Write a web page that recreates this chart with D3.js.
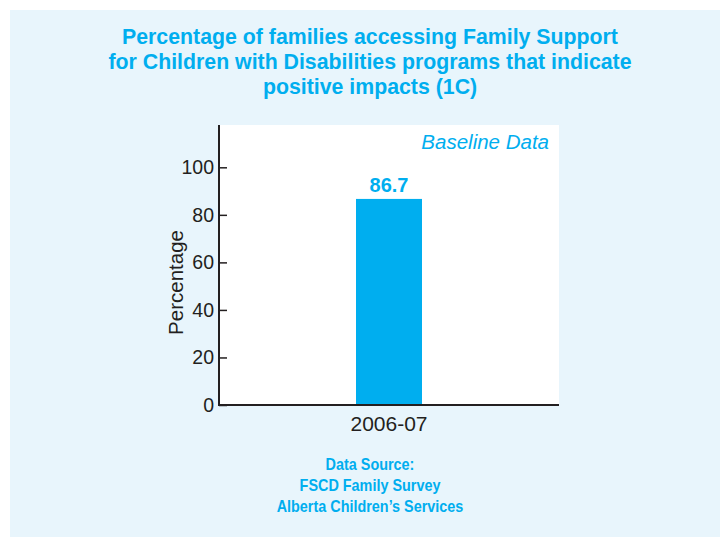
<!DOCTYPE html>
<html>
<head>
<meta charset="utf-8">
<script src="https://cdn.jsdelivr.net/npm/d3@7"></script>
<style>
  html, body { margin: 0; padding: 0; background: #ffffff; }
  svg { display: block; }
</style>
</head>
<body>
<svg id="chart" width="720" height="538"></svg>
<script>
// Chart data
const categories = ["2006-07"];
const values = [86.7];
const yTicks = [0, 20, 40, 60, 80, 100];
const titleLines = [
  "Percentage of families accessing Family Support",
  "for Children with Disabilities programs that indicate",
  "positive impacts (1C)"
];
const sourceLines = [
  "Data Source:",
  "FSCD Family Survey",
  "Alberta Children\u2019s Services"
];

const cyan = "#00aeef";
const ink = "#231f20";
const sans = "'Liberation Sans', Arial, Helvetica, sans-serif";

const svg = d3.select("#chart");

// Light blue panel
svg.append("rect")
  .attr("x", 10).attr("y", 10)
  .attr("width", 710).attr("height", 527)
  .attr("fill", "#e8f5fc");

// Plot area
const plot = { left: 219, right: 559, top: 125, bottom: 405 };

svg.append("rect")
  .attr("x", plot.left).attr("y", plot.top)
  .attr("width", plot.right - plot.left)
  .attr("height", plot.bottom - plot.top)
  .attr("fill", "#ffffff");

const x = d3.scaleBand()
  .domain(categories)
  .range([plot.left, plot.right])
  .paddingInner(0)
  .paddingOuter(2.076);

const y = d3.scaleLinear()
  .domain([0, 117.8])
  .range([plot.bottom, plot.top]);

// Title
svg.append("g")
  .selectAll("text")
  .data(titleLines)
  .join("text")
  .attr("x", 370)
  .attr("y", (d, i) => 44 + i * 25)
  .attr("text-anchor", "middle")
  .attr("font-family", sans)
  .attr("font-weight", "bold")
  .attr("font-size", 21.3)
  .attr("fill", cyan)
  .text(d => d);

// Bars
svg.append("g")
  .selectAll("rect")
  .data(values)
  .join("rect")
  .attr("x", (d, i) => x(categories[i]))
  .attr("width", x.bandwidth())
  .attr("y", d => y(d))
  .attr("height", d => y(0) - y(d))
  .attr("fill", cyan);

// Value labels
svg.append("g")
  .selectAll("text")
  .data(values)
  .join("text")
  .attr("x", (d, i) => x(categories[i]) + x.bandwidth() / 2)
  .attr("y", d => y(d) - 7)
  .attr("text-anchor", "middle")
  .attr("font-family", sans)
  .attr("font-weight", "bold")
  .attr("font-size", 20)
  .attr("fill", cyan)
  .text(d => d.toFixed(1));

// Y axis (ticks point into the plot)
const yAxis = d3.axisRight(y)
  .tickValues(yTicks)
  .tickSize(8)
  .tickFormat("");
const gy = svg.append("g")
  .attr("transform", `translate(${plot.left},0)`)
  .call(yAxis);
gy.select(".domain").remove();
gy.selectAll(".tick line").attr("stroke", ink).attr("stroke-width", 1.5);

svg.append("g")
  .selectAll("text")
  .data(yTicks)
  .join("text")
  .attr("x", plot.left - 5)
  .attr("y", d => y(d))
  .attr("dy", "0.36em")
  .attr("text-anchor", "end")
  .attr("font-family", sans)
  .attr("font-size", 19.5)
  .attr("fill", ink)
  .text(d => d);

// Axis lines
svg.append("line")
  .attr("x1", plot.left).attr("x2", plot.left)
  .attr("y1", plot.top).attr("y2", plot.bottom + 1)
  .attr("stroke", ink).attr("stroke-width", 2);
svg.append("line")
  .attr("x1", plot.left - 1).attr("x2", plot.right)
  .attr("y1", plot.bottom).attr("y2", plot.bottom)
  .attr("stroke", ink).attr("stroke-width", 2);

// X axis category labels
const xAxis = d3.axisBottom(x).tickSize(0).tickPadding(11);
const gx = svg.append("g")
  .attr("transform", `translate(0,${plot.bottom})`)
  .call(xAxis);
gx.select(".domain").remove();
gx.selectAll("text")
  .attr("font-family", sans)
  .attr("font-size", 21)
  .attr("fill", ink);

// Y axis title
svg.append("text")
  .attr("transform", `translate(183,282.5) rotate(-90)`)
  .attr("text-anchor", "middle")
  .attr("font-family", sans)
  .attr("font-size", 20.5)
  .attr("fill", ink)
  .text("Percentage");

// Note inside the plot
svg.append("text")
  .attr("x", 549)
  .attr("y", 149)
  .attr("text-anchor", "end")
  .attr("font-family", sans)
  .attr("font-style", "italic")
  .attr("font-size", 20.5)
  .attr("fill", cyan)
  .text("Baseline Data");

// Source note, set in a condensed bold face
svg.append("g")
  .attr("transform", "translate(370,0) scale(0.9,1)")
  .selectAll("text")
  .data(sourceLines)
  .join("text")
  .attr("x", 0)
  .attr("y", (d, i) => 470.5 + i * 20.7)
  .attr("text-anchor", "middle")
  .attr("font-family", sans)
  .attr("font-weight", "bold")
  .attr("font-size", 16)
  .attr("fill", cyan)
  .text(d => d);
</script>
</body>
</html>
